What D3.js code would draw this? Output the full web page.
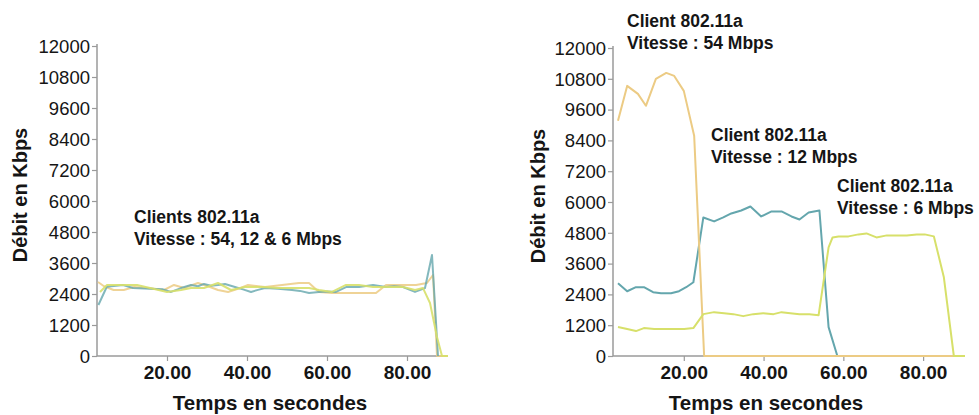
<!DOCTYPE html>
<html><head><meta charset="utf-8">
<script src="https://cdn.jsdelivr.net/npm/d3@7"></script>
<style>
html,body{margin:0;padding:0;background:#fff;}
svg{display:block;font-family:"Liberation Sans",Arial,sans-serif;}
</style></head>
<body><svg id="c" width="979" height="415"></svg>
<script>
// ---- Data ----
const yTicks = [0,1200,2400,3600,4800,6000,7200,8400,9600,10800,12000];
const xTicks = [20,40,60,80];
const yTitle = "Débit en Kbps";
const xTitle = "Temps en secondes";

// Left panel (all clients together)
const leftTealT = [2.85,4.95,9,11.5,15.75,19,21,23.5,26,27.75,29.25,31,32.75,34.5,37,39,41,42.75,44.5,47.75,51.25,53.25,55.5,58,60,62.25,64.75,68,71.5,74.75,76.75,79,82,84.5,86.25,87.75];
const leftTealV = [1974,2680,2750,2630,2600,2580,2480,2630,2750,2700,2790,2720,2750,2790,2670,2580,2480,2560,2630,2600,2555,2520,2440,2480,2500,2480,2670,2670,2750,2670,2700,2670,2480,2630,3910,0];
const leftTanT = [2.75,4.25,6.65,9.2,11.75,15.75,19.25,21.75,24.25,27.75,30.25,32.75,35.25,37.75,40.25,44.5,48.75,53,55.5,58,61.25,64.75,68,72.25,74.75,79,82.25,85,86.5,87.5,90.25];
const leftTanV = [2865,2700,2555,2555,2670,2620,2555,2750,2630,2826,2700,2555,2480,2600,2750,2670,2750,2826,2826,2480,2440,2440,2440,2440,2750,2750,2750,2826,3136,0,0];
const leftGreenT = [3.25,5,9,12.5,15.75,20,23.5,26,29.25,32.75,36,39.5,43.75,47.75,51.25,55.5,58,61.25,64.75,68,71.5,74.75,79,82,84,85.75,87.5,88.75,90.25];
const leftGreenV = [2480,2750,2750,2750,2630,2480,2555,2630,2630,2826,2555,2670,2670,2630,2630,2630,2555,2480,2750,2750,2670,2670,2670,2555,2630,2050,735,0,0];

// Right panel (one client per rate)
const rightTanT = [3.5,5.8,8.5,10.5,13,15.6,17.6,20,22.6,25.1,90.5];
const rightTanV = [9165,10524,10213,9748,10796,11029,10912,10330,8582,0,0];
const rightTealT = [3.5,5.8,8,10,12.3,14.3,16.8,18.8,20.6,22.4,24.9,27.6,29.9,31.9,34.4,36.7,39.4,42,44.5,47,49,51.3,54,56.3,58.5];
const rightTealV = [2835,2524,2680,2680,2485,2447,2447,2524,2680,2874,5398,5243,5398,5553,5670,5825,5437,5631,5631,5437,5320,5592,5670,1126,0];
const rightGreenT = [3.5,5.8,8,10,12.6,15.1,17.6,20.1,22.4,24.9,27.6,30.1,32.4,34.9,37.4,39.9,42.5,44.5,46.7,49,51.5,53.8,56.3,57.3,58.8,61.3,63.8,65.8,68.3,70.9,73.4,75.9,78.4,80.4,82.7,85.2,87.7,90.5];
const rightGreenV = [1126,1049,971,1087,1049,1049,1049,1049,1087,1631,1709,1670,1631,1553,1631,1670,1631,1709,1670,1631,1631,1592,4233,4621,4660,4660,4738,4777,4621,4699,4699,4699,4738,4738,4660,3068,0,0];

const leftNotes = ["Clients 802.11a","Vitesse : 54, 12 & 6 Mbps"];
const rightNotes = [["Client 802.11a","Vitesse : 54 Mbps"],["Client 802.11a","Vitesse : 12 Mbps"],["Client 802.11a","Vitesse : 6 Mbps"]];

const colTan = "#eccb84", colTeal = "#64a6ad", colGreen = "#d7e06a";
const axisCol = "#9a9a9a", textCol = "#151515";

const svg = d3.select("#c");

function panel(cfg){
  const g = svg.append("g");
  const x = d3.scaleLinear().domain(cfg.xDom).range(cfg.xRange);
  const y = d3.scaleLinear().domain([0,12000]).range(cfg.yRange);
  const line = d3.line().x(d=>x(d[0])).y(d=>y(d[1]));
  // y axis
  const ya = g.append("g").attr("transform",`translate(${cfg.xRange[0]},0)`)
    .call(d3.axisLeft(y).tickValues(yTicks).tickFormat(d3.format("d")).tickSize(5).tickPadding(2));
  ya.select(".domain").attr("stroke",axisCol).attr("stroke-width",1.5).attr("d",`M0,${cfg.yRange[1]-2}V${cfg.yRange[0]}`);
  ya.selectAll(".tick line").attr("stroke",axisCol).attr("stroke-width",1.2);
  ya.selectAll(".tick text").attr("fill",textCol).style("font-size","18.5px").attr("dy","0.34em");
  // x axis
  const xa = g.append("g").attr("transform",`translate(0,${cfg.yRange[0]})`)
    .call(d3.axisBottom(x).tickValues(xTicks).tickFormat(d3.format(".2f")).tickSize(5).tickPadding(5));
  xa.select(".domain").attr("stroke",axisCol).attr("stroke-width",1.5).attr("d",`M${cfg.xRange[0]},0H${cfg.xRange[1]}`);
  xa.selectAll(".tick line").attr("stroke",axisCol).attr("stroke-width",1.2);
  xa.selectAll(".tick text").attr("fill",textCol).style("font-size","19px").style("font-weight","bold");
  // series drawn over the axes
  cfg.series.forEach(s=>{
    const pts = s.t.map((t,i)=>[t,s.v[i]]);
    g.append("path").datum(pts).attr("d",line).attr("fill","none")
     .attr("stroke",s.c).attr("stroke-width",2).attr("stroke-opacity",s.o||1)
     .attr("stroke-linejoin","round");
  });
  // titles
  g.append("text").attr("x",cfg.xTitleX).attr("y",410).attr("text-anchor","middle")
   .attr("fill",textCol).style("font-size","20.5px").style("font-weight","bold").text(xTitle);
  g.append("text").attr("transform",`translate(${cfg.yTitleX},${cfg.yTitleY}) rotate(-90)`).attr("text-anchor","middle")
   .attr("fill",textCol).style("font-size","20px").style("font-weight","bold").text(yTitle);
  cfg.notes.forEach(n=>{
    const t = g.append("text").attr("fill",textCol).style("font-size","17.5px").style("font-weight","bold");
    n.lines.forEach((l,i)=>t.append("tspan").attr("x",n.x).attr("y",n.y+i*22).text(l));
  });
  return {g,x,y};
}

panel({
  xDom:[2.5,90.25], xRange:[97,448], yRange:[356,46],
  yTitleX:27, yTitleY:195, xTitleX:270,
  series:[{t:leftTanT,v:leftTanV,c:colTan,o:0.85},{t:leftTealT,v:leftTealV,c:colTeal,o:0.8},{t:leftGreenT,v:leftGreenV,c:colGreen,o:0.9}],
  notes:[{x:134,y:223,lines:leftNotes}]
});
panel({
  xDom:[2.25,90.5], xRange:[613,965], yRange:[356,48],
  yTitleX:545, yTitleY:196, xTitleX:766,
  series:[{t:rightTealT,v:rightTealV,c:colTeal},{t:rightTanT,v:rightTanV,c:colTan},{t:rightGreenT,v:rightGreenV,c:colGreen}],
  notes:[{x:627,y:27,lines:rightNotes[0]},{x:711,y:141,lines:rightNotes[1]},{x:837,y:192,lines:rightNotes[2]}]
});
</script></body></html>
